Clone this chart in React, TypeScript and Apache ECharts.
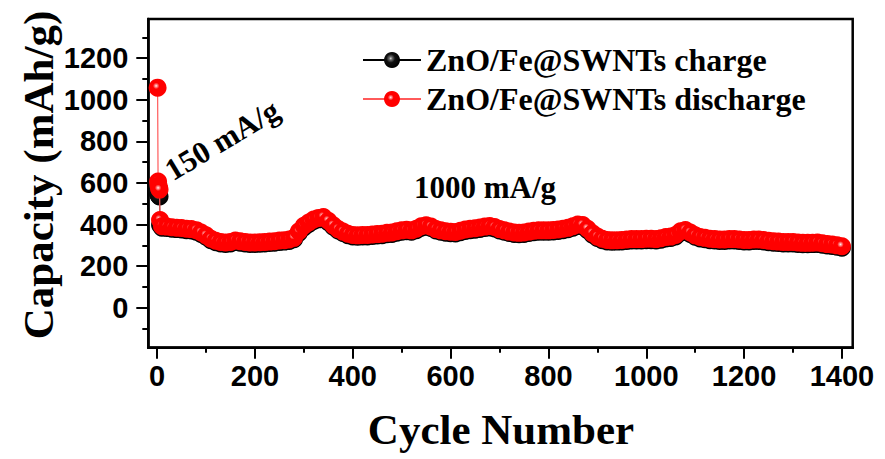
import React, { useEffect, useRef } from "react";
import * as echarts from "echarts";

const cycles = [
  1, 2, 3, 4, 5, 6,
  10, 20, 30, 40, 50, 60, 70, 80, 90, 100,
  110, 120, 130, 140, 150, 160, 170, 180, 190, 200,
  210, 220, 230, 240, 250, 260, 270, 280, 290, 300,
  310, 320, 330, 340, 350, 360, 370, 380, 390, 400,
  410, 420, 430, 440, 450, 460, 470, 480, 490, 500,
  510, 520, 530, 540, 550, 560, 570, 580, 590, 600,
  610, 620, 630, 640, 650, 660, 670, 680, 690, 700,
  710, 720, 730, 740, 750, 760, 770, 780, 790, 800,
  810, 820, 830, 840, 850, 860, 870, 880, 890, 900,
  910, 920, 930, 940, 950, 960, 970, 980, 990, 1000,
  1010, 1020, 1030, 1040, 1050, 1060, 1070, 1080, 1090, 1100,
  1110, 1120, 1130, 1140, 1150, 1160, 1170, 1180, 1190, 1200,
  1210, 1220, 1230, 1240, 1250, 1260, 1270, 1280, 1290, 1300,
  1310, 1320, 1330, 1340, 1350, 1360, 1370, 1380, 1390, 1400,
];

const discharge = [
  1058, 607, 588, 575, 568, 422,
  392, 390, 387, 385, 383, 380, 378, 373, 362, 348,
  332, 322, 316, 314, 316, 323, 320, 316, 314, 314,
  315, 316, 318, 320, 323, 325, 328, 336, 368, 394,
  410, 424, 432, 436, 418, 396, 378, 366, 356, 350,
  348, 350, 350, 352, 354, 356, 360, 362, 368, 372,
  375, 372, 380, 392, 396, 390, 378, 372, 368, 365,
  364, 370, 376, 380, 382, 386, 390, 393, 388, 378,
  372, 366, 362, 360, 362, 366, 370, 372, 372, 372,
  374, 376, 380, 384, 392, 400, 398, 380, 358, 342,
  332, 326, 324, 325, 326, 328, 330, 330, 330, 332,
  332, 330, 334, 340, 342, 350, 368, 374, 362, 348,
  340, 336, 332, 330, 328, 328, 330, 330, 328, 326,
  326, 328, 328, 326, 322, 320, 318, 316, 316, 316,
  314, 312, 312, 313, 314, 310, 306, 304, 300, 296,
];

const charge = [
  560, 548, 542, 538, 535, 398,
  385, 383, 380, 378, 376, 373, 371, 366, 355, 341,
  325, 315, 309, 307, 309, 316, 313, 309, 307, 307,
  308, 309, 311, 313, 316, 318, 321, 329, 360, 386,
  403, 417, 425, 429, 411, 389, 371, 359, 349, 343,
  341, 343, 343, 345, 347, 349, 353, 355, 361, 365,
  368, 365, 373, 385, 389, 383, 371, 365, 361, 358,
  357, 363, 369, 373, 375, 379, 383, 386, 381, 371,
  365, 359, 355, 353, 355, 359, 363, 365, 365, 365,
  367, 369, 373, 377, 385, 393, 391, 373, 351, 335,
  325, 319, 317, 318, 319, 321, 323, 323, 323, 325,
  325, 323, 327, 333, 335, 343, 361, 367, 355, 341,
  333, 329, 325, 323, 321, 321, 323, 323, 321, 319,
  319, 321, 321, 319, 315, 313, 311, 309, 309, 309,
  307, 305, 305, 306, 307, 303, 299, 297, 293, 289,
];

const xMajorTicks = [0, 200, 400, 600, 800, 1000, 1200, 1400];
const xMinorTicks = [100, 300, 500, 700, 900, 1100, 1300];
const yMajorTicks = [0, 200, 400, 600, 800, 1000, 1200];
const yMinorTicks = [-100, 100, 300, 500, 700, 900, 1100, 1300];

const seriesNames = ["ZnO/Fe@SWNTs charge", "ZnO/Fe@SWNTs discharge"];

const SERIF = '"Liberation Serif", "Times New Roman", serif';
const SANS = '"Liberation Sans", Arial, sans-serif';

export default function App() {
  const ref = useRef<HTMLDivElement>(null);

  useEffect(() => {
    if (!ref.current) return;
    const chart = echarts.init(ref.current, undefined, { renderer: "svg" });

    const redBall = {
      type: "radial",
      x: 0.42,
      y: 0.4,
      r: 0.6,
      colorStops: [
        { offset: 0, color: "#fff4f4" },
        { offset: 0.1, color: "#ff9a9a" },
        { offset: 0.3, color: "#ff0000" },
        { offset: 1, color: "#ff0000" },
      ],
    };
    const blackBall = {
      type: "radial",
      x: 0.42,
      y: 0.4,
      r: 0.6,
      colorStops: [
        { offset: 0, color: "#e0e0e0" },
        { offset: 0.15, color: "#707070" },
        { offset: 0.45, color: "#101010" },
        { offset: 1, color: "#000000" },
      ],
    };

    const xBase = {
      type: "value",
      min: -18,
      max: 1422,
      splitLine: { show: false },
    };
    const yBase = {
      type: "value",
      min: -192,
      max: 1388,
      splitLine: { show: false },
    };
    const plain = (v: number) => String(v);

    const option: any = {
      animation: false,
      grid: {
        left: 148.3,
        top: 19,
        right: 32.3,
        bottom: 111.3,
        show: true,
        borderColor: "#000",
        borderWidth: 2.5,
        backgroundColor: "transparent",
      },
      legend: {
        orient: "vertical",
        left: 357,
        top: 39,
        itemWidth: 58,
        itemHeight: 20,
        itemGap: 7,
        data: seriesNames,
        textStyle: {
          fontFamily: SERIF,
          fontWeight: "bold",
          fontSize: 32,
          color: "#000",
        },
      },
      xAxis: [
        {
          ...xBase,
          position: "bottom",
          axisLine: { show: true, onZero: false, lineStyle: { color: "#000", width: 2.5 } },
          axisTick: {
            show: true,
            inside: false,
            length: 11,
            lineStyle: { color: "#000", width: 2 },
            customValues: xMajorTicks,
          },
          axisLabel: {
            show: true,
            margin: 14,
            fontFamily: SANS,
            fontWeight: "bold",
            fontSize: 29,
            color: "#000",
            formatter: plain,
            customValues: xMajorTicks,
          },
        },
        {
          ...xBase,
          position: "bottom",
          axisLine: { show: false, onZero: false },
          axisTick: {
            show: true,
            inside: false,
            length: 5,
            lineStyle: { color: "#000", width: 2 },
            customValues: xMinorTicks,
          },
          axisLabel: { show: false },
        },
      ],
      yAxis: [
        {
          ...yBase,
          position: "left",
          axisLine: { show: true, onZero: false, lineStyle: { color: "#000", width: 2.5 } },
          axisTick: {
            show: true,
            inside: false,
            length: 12,
            lineStyle: { color: "#000", width: 2 },
            customValues: yMajorTicks,
          },
          axisLabel: {
            show: true,
            margin: 20,
            fontFamily: SANS,
            fontWeight: "bold",
            fontSize: 29,
            color: "#000",
            formatter: plain,
            customValues: yMajorTicks,
          },
        },
        {
          ...yBase,
          position: "left",
          axisLine: { show: false, onZero: false },
          axisTick: {
            show: true,
            inside: false,
            length: 6,
            lineStyle: { color: "#000", width: 2 },
            customValues: yMinorTicks,
          },
          axisLabel: { show: false },
        },
      ],
      series: [
        {
          name: seriesNames[0],
          type: "line",
          xAxisIndex: 0,
          yAxisIndex: 0,
          data: cycles.map((c, i) => [c, charge[i]]),
          symbol: "circle",
          symbolSize: 18,
          showAllSymbol: true,
          itemStyle: { color: blackBall },
          lineStyle: { color: "#000", width: 1 },
          emphasis: { disabled: true },
          z: 2,
        },
        {
          name: seriesNames[1],
          type: "line",
          xAxisIndex: 0,
          yAxisIndex: 0,
          data: cycles.map((c, i) => [c, discharge[i]]),
          symbol: "circle",
          symbolSize: 18,
          showAllSymbol: true,
          itemStyle: { color: redBall },
          lineStyle: { color: "#ff5a5a", width: 1.2 },
          emphasis: { disabled: true },
          z: 3,
        },
      ],
      graphic: [
        {
          type: "text",
          x: 38,
          y: 175,
          rotation: Math.PI / 2,
          style: {
            text: "Capacity (mAh/g)",
            fontFamily: SERIF,
            fontWeight: "bold",
            fontSize: 43,
            fill: "#000",
            textAlign: "center",
            textVerticalAlign: "middle",
            align: "center",
            verticalAlign: "middle",
          },
        },
        {
          type: "text",
          x: 501,
          y: 429,
          style: {
            text: "Cycle Number",
            fontFamily: SERIF,
            fontWeight: "bold",
            fontSize: 43,
            fill: "#000",
            textAlign: "center",
            textVerticalAlign: "middle",
            align: "center",
            verticalAlign: "middle",
          },
        },
        {
          type: "text",
          x: 222,
          y: 140,
          rotation: 0.54,
          z: 10,
          style: {
            text: "150 mA/g",
            fontFamily: SERIF,
            fontWeight: "bold",
            fontSize: 31,
            fill: "#000",
            textAlign: "center",
            textVerticalAlign: "middle",
            align: "center",
            verticalAlign: "middle",
          },
        },
        {
          type: "text",
          x: 485,
          y: 187,
          z: 10,
          style: {
            text: "1000 mA/g",
            fontFamily: SERIF,
            fontWeight: "bold",
            fontSize: 31,
            fill: "#000",
            textAlign: "center",
            textVerticalAlign: "middle",
            align: "center",
            verticalAlign: "middle",
          },
        },
      ],
    };

    chart.setOption(option);
    return () => {
      chart.dispose();
    };
  }, []);

  return (
    <div
      ref={ref}
      style={{ position: "fixed", left: 0, top: 0, width: 885, height: 459, background: "#fff" }}
    />
  );
}
